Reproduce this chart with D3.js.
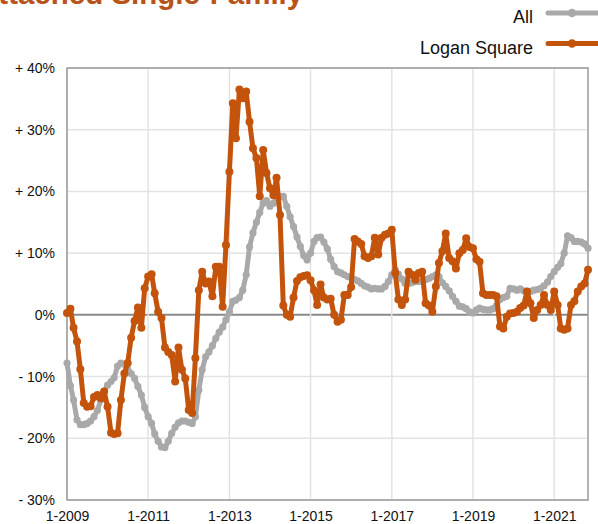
<!DOCTYPE html>
<html lang="en">
<head>
<meta charset="utf-8">
<title>Attached Single-Family</title>
<script type="text/javascript" src="https://cdn.jsdelivr.net/npm/d3@7"></script>
<style>
  body { margin: 0; background: #fff; font-family: "Liberation Sans", Arial, Helvetica, sans-serif; }
</style>
</head>
<body>
<div id="bod"></div>
<script type="text/javascript">
  // monthly values, Jan 2009 .. Nov 2021, year-over-year % change
  let startMonth = "2009-01";
  let allValues = [
    -7.8, -11.5, -13.8, -17.0, -17.8, -17.8, -17.6, -17.2, -16.5, -15.5, -13.8, -12.4,
    -11.4, -10.8, -10.2, -8.3, -7.8, -8.0, -8.8, -9.5, -10.3, -11.6, -13.0, -15.0,
    -16.5, -17.6, -19.3, -20.5, -21.4, -21.5, -20.5, -19.2, -18.2, -17.5, -17.2, -17.2,
    -17.4, -17.6, -16.5, -12.2, -8.9, -6.8, -6.0, -5.0, -3.8, -2.8, -2.0, -0.8,
    0.5, 2.2, 2.4, 2.8, 4.0, 6.5, 11.0, 13.3, 15.0, 16.6, 18.1, 18.5,
    17.6, 18.1, 18.6, 19.2, 19.2, 17.6, 15.9, 14.3, 12.6, 11.1, 9.6, 8.9,
    10.0, 11.9, 12.5, 12.6, 11.8, 10.7, 9.0, 7.8, 7.0, 6.8, 6.5, 6.2,
    6.0, 5.7, 5.5, 5.1, 4.7, 4.5, 4.2, 4.3, 4.2, 4.2, 4.6, 5.4,
    6.5, 7.3, 6.6, 5.8, 5.1, 5.1, 5.2, 5.4, 5.4, 5.6, 5.7, 5.9,
    6.2, 6.5, 6.2, 5.2, 4.6, 3.9, 3.0, 2.2, 1.4, 1.3, 1.0, 0.5,
    0.3, 0.8, 1.1, 0.9, 0.8, 0.8, 1.0, 1.5, 2.5, 2.8, 3.0, 4.3,
    4.2, 4.0, 4.2, 3.9, 3.8, 3.8, 4.0, 4.1, 4.3, 4.7, 5.3, 6.2,
    7.0, 7.7, 8.3, 10.0, 12.8, 12.5, 11.9, 11.9, 11.8, 11.5, 10.8
  ];
  let loganValues = [
    0.3, 1.0, -2.1, -4.3, -8.8, -14.3, -14.9, -14.8, -13.3, -13.0, -13.5, -12.4,
    -14.9, -19.1, -19.3, -19.2, -13.8, -9.5, -7.8, -3.7, -1.0, 1.2, -2.1, 4.3,
    6.2, 6.6, 3.5, 0.5, -0.5, -5.3, -6.0, -6.5, -10.8, -5.3, -8.9, -10.3,
    -15.4, -15.9, -7.0, 4.0, 7.0, 5.1, 5.4, 3.0, 7.8, 7.8, 1.3, 11.3,
    23.2, 34.3, 28.6, 36.5, 35.1, 36.2, 31.3, 27.0, 25.4, 19.2, 26.7, 23.0,
    20.5, 19.4, 22.2, 16.2, 1.5, 0.0, -0.3, 2.8, 5.5, 6.1, 6.3, 6.4,
    5.6, 4.0, 1.6, 4.9, 2.8, 2.5, 2.6, 0.0, -1.1, -0.8, 3.2, 3.2,
    4.5, 12.3, 11.9, 11.5, 9.5, 9.2, 9.5, 12.5, 9.8, 12.5, 13.0, 13.2,
    13.8, 6.8, 2.5, 1.6, 2.5, 7.0, 6.5, 5.7, 6.8, 7.0, 1.9, 1.5,
    0.5, 4.6, 8.4, 10.3, 13.2, 9.2, 8.7, 7.5, 10.0, 10.5, 12.4, 11.0,
    10.8, 9.0, 8.6, 3.5, 3.2, 3.2, 3.2, 3.0, -1.9, -2.2, -0.3, 0.2,
    0.3, 0.5, 1.1, 1.5, 3.8, 1.9, -0.5, 0.8, 1.6, 3.2, 1.6, 0.8,
    3.8, 1.6, -2.2, -2.4, -2.2, 1.6, 2.2, 3.8, 4.6, 5.1, 7.3
  ];
  let seriesNames = ["All", "Logan Square"];
  let yTicks = [-30, -20, -10, 0, 10, 20, 30, 40];
  let xTickLabels = ["1-2009", "1-2011", "1-2013", "1-2015", "1-2017", "1-2019", "1-2021"];
  let titleText = "Attached Single-Family";

  const drawChart = () => {
    let w = 598;
    let h = 524;
    let left = 67, right = 588, top = 68, bottom = 500;
    let gray = "#a9a9a9";
    let orange = "#c4530b";

    let parse = d3.timeParse("%Y-%m");
    let start = parse(startMonth);
    let dates = loganValues.map((d, i) => d3.timeMonth.offset(start, i));

    let xScale = d3.scaleTime()
      .domain([start, dates[dates.length - 1]])
      .range([left, right])

    let yScale = d3.scaleLinear()
      .domain([-30, 40])
      .range([bottom, top])

    let svg = d3.select("#bod")
      .append("svg")
      .attr("width", w)
      .attr("height", h)

    // title, partly off the top of the page as in the source
    svg.append("text")
      .attr("x", -23)
      .attr("y", 4)
      .attr("font-size", 29.5)
      .attr("font-weight", "bold")
      .attr("fill", "#b8541a")
      .text(titleText)

    let tickParse = d3.timeParse("%m-%Y");
    let xTicks = xTickLabels.map((t) => tickParse(t));

    // grid
    svg.append("g")
      .selectAll("line")
      .data(yTicks)
      .enter()
      .append("line")
      .attr("x1", left)
      .attr("x2", right)
      .attr("y1", (d) => yScale(d))
      .attr("y2", (d) => yScale(d))
      .attr("stroke", (d) => d == 0 ? "#8a8a8a" : "#e3e3e3")
      .attr("stroke-width", (d) => d == 0 ? 2 : 1.5)

    svg.append("g")
      .selectAll("line")
      .data(xTicks)
      .enter()
      .append("line")
      .attr("x1", (d) => xScale(d))
      .attr("x2", (d) => xScale(d))
      .attr("y1", top)
      .attr("y2", bottom)
      .attr("stroke", "#e3e3e3")
      .attr("stroke-width", 1.5)

    svg.append("rect")
      .attr("x", left)
      .attr("y", top)
      .attr("width", right - left)
      .attr("height", bottom - top)
      .attr("fill", "none")
      .attr("stroke", "#9a9a9a")
      .attr("stroke-width", 1.5)

    // axes
    let fmtY = (v) => v > 0 ? "+ " + v + "%" : (v < 0 ? "- " + Math.abs(v) + "%" : "0%");
    let yAxis = d3.axisLeft(yScale)
      .tickValues(yTicks)
      .tickFormat(fmtY)
      .tickSize(0)
      .tickPadding(12)

    let xAxis = d3.axisBottom(xScale)
      .tickValues(xTicks)
      .tickFormat((d, i) => xTickLabels[i])
      .tickSize(0)
      .tickPadding(11)

    svg.append("g")
      .attr("transform", "translate(" + left + ",0)")
      .call(yAxis)
      .call((g) => g.select(".domain").remove())
      .selectAll("text")
      .attr("font-size", 14)
      .attr("font-family", "Liberation Sans, Arial, sans-serif")
      .attr("fill", "#111")

    svg.append("g")
      .attr("transform", "translate(0," + bottom + ")")
      .call(xAxis)
      .call((g) => g.select(".domain").remove())
      .selectAll("text")
      .attr("font-size", 14)
      .attr("font-family", "Liberation Sans, Arial, sans-serif")
      .attr("fill", "#111")

    // series
    let series = [
      {name: seriesNames[0], values: allValues, color: gray, r: 3.6},
      {name: seriesNames[1], values: loganValues, color: orange, r: 4}
    ];

    let line = d3.line()
      .x((d, i) => xScale(dates[i]))
      .y((d) => yScale(d))

    series.forEach((s) => {
      svg.append("path")
        .datum(s.values)
        .attr("d", line)
        .attr("fill", "none")
        .attr("stroke", s.color)
        .attr("stroke-width", 5)
        .attr("stroke-linejoin", "round")

      svg.append("g")
        .selectAll("circle")
        .data(s.values)
        .enter()
        .append("circle")
        .attr("cx", (d, i) => xScale(dates[i]))
        .attr("cy", (d) => yScale(d))
        .attr("r", s.r)
        .attr("fill", s.color)
    })

    // legend
    let legend = svg.append("g")
      .selectAll("g")
      .data(series)
      .enter()
      .append("g")
      .attr("transform", (d, i) => "translate(0," + (13 + i * 30.5) + ")")

    legend.append("line")
      .attr("x1", 548)
      .attr("x2", 598)
      .attr("stroke", (d) => d.color)
      .attr("stroke-width", 5)
      .attr("stroke-linecap", "round")

    legend.append("circle")
      .attr("cx", 572)
      .attr("r", 4.2)
      .attr("fill", (d) => d.color)

    legend.append("text")
      .attr("x", 533)
      .attr("y", 10)
      .attr("text-anchor", "end")
      .attr("font-size", 18)
      .attr("fill", "#111")
      .text((d) => d.name)
  }

  drawChart();
</script>
</body>
</html>
